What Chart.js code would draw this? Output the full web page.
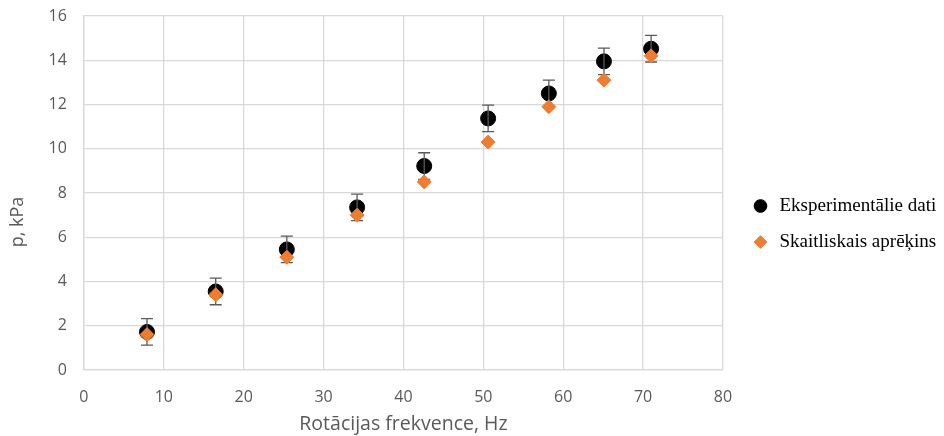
<!DOCTYPE html>
<html>
<head>
<meta charset="utf-8">
<script src="https://cdn.jsdelivr.net/npm/chart.js@4/dist/chart.umd.min.js"></script>
<style>
  html, body { margin: 0; padding: 0; background: #fff; }
  #wrap { width: 944px; height: 436px; }
</style>
</head>
<body>
<div id="wrap"><canvas id="chart" width="944" height="436"></canvas></div>
<script>
const freq = [7.9, 16.5, 25.4, 34.2, 42.6, 50.6, 58.2, 65.1, 71.0];
const measured = [1.72, 3.55, 5.45, 7.35, 9.22, 11.37, 12.5, 13.95, 14.52];
const computed = [1.6, 3.4, 5.1, 7.0, 8.5, 10.3, 11.9, 13.1, 14.2];
const measuredErr = [0.6, 0.6, 0.6, 0.6, 0.6, 0.6, 0.6, 0.6, 0.6];

const seriesNames = ['Eksperimentālie dati', 'Skaitliskais aprēķins'];

const gridColor = '#d9d9d9';
const textColor = '#595959';

// error bars for the measured series, drawn right after that dataset
const errorBars = {
    id: 'errorBars',
    afterDatasetDraw(chart, args) {
        if (args.index !== 0) return;
        const ctx = chart.ctx;
        const xs = chart.scales.x, ys = chart.scales.y;
        ctx.save();
        ctx.strokeStyle = '#595959';
        ctx.lineWidth = 1.3;
        for (let i = 0; i < freq.length; i++) {
            const px = xs.getPixelForValue(freq[i]);
            const top = ys.getPixelForValue(measured[i] + measuredErr[i]);
            const bot = ys.getPixelForValue(measured[i] - measuredErr[i]);
            ctx.beginPath();
            ctx.moveTo(px, top); ctx.lineTo(px, bot);
            ctx.moveTo(px - 6, top); ctx.lineTo(px + 6, top);
            ctx.moveTo(px - 6, bot); ctx.lineTo(px + 6, bot);
            ctx.stroke();
        }
        ctx.restore();
    }
};

// legend on the right is wider than its content, like the original
const legendBox = {
    id: 'legendBox',
    beforeUpdate(chart) {
        const lg = chart.legend;
        if (lg && !lg._fitPatched) {
            const fit = lg.fit;
            lg.fit = function () {
                fit.call(this);
                this.width = 221;
            };
            lg._fitPatched = true;
        }
    },
    afterLayout(chart) {
        const lg = chart.legend;
        lg.left += 11;
        lg.top += 6;
        lg.bottom += 6;
        // y title sits lower than the plot centre in the original
        const ys = chart.scales.y;
        if (!ys._titlePatched) {
            const drawTitle = ys.drawTitle;
            ys.drawTitle = function () {
                const t = this.top, b = this.bottom;
                this.top += 29; this.bottom += 29;
                drawTitle.apply(this, arguments);
                this.top = t; this.bottom = b;
            };
            ys._titlePatched = true;
        }
    }
};

new Chart(document.getElementById('chart'), {
    type: 'scatter',
    data: {
        datasets: [
            {
                label: seriesNames[0],
                data: freq.map((x, i) => ({ x: x, y: measured[i] })),
                backgroundColor: '#000000',
                borderColor: '#000000',
                pointStyle: 'circle',
                pointRadius: 7.5,
                order: 2
            },
            {
                label: seriesNames[1],
                data: freq.map((x, i) => ({ x: x, y: computed[i] })),
                backgroundColor: '#ed7d31',
                borderColor: '#ed7d31',
                pointStyle: 'rectRot',
                pointRadius: 7,
                order: 1
            }
        ]
    },
    options: {
        responsive: false,
        animation: false,
        layout: { padding: { top: 0, left: 7, right: 0, bottom: 0 } },
        plugins: {
            tooltip: { enabled: false },
            legend: {
                position: 'right',
                labels: {
                    usePointStyle: true,
                    boxWidth: 19,
                    boxHeight: 9,
                    padding: 17,
                    color: '#000',
                    font: { family: 'Liberation Serif', size: 19 },
                    sort: (a, b) => a.datasetIndex - b.datasetIndex
                }
            }
        },
        scales: {
            x: {
                type: 'linear',
                min: 0, max: 80,
                ticks: { stepSize: 10, color: textColor, font: { family: 'Open Sans', size: 16 }, padding: 18 },
                grid: { color: gridColor, lineWidth: 1.3, drawTicks: false },
                border: { color: gridColor, width: 1.3 },
                title: { display: true, text: 'Rotācijas frekvence, Hz', color: textColor, font: { family: 'Open Sans', size: 19.5 }, padding: { top: 0, bottom: 0 } },
                afterFit(s) { s.height = 66; }
            },
            y: {
                min: 0, max: 16,
                ticks: { stepSize: 2, color: textColor, font: { family: 'Open Sans', size: 16 }, padding: 17 },
                grid: { color: gridColor, lineWidth: 1.3, drawTicks: false },
                border: { color: gridColor, width: 1.3 },
                title: { display: true, text: 'p, kPa', color: textColor, font: { family: 'Open Sans', size: 18 }, padding: { top: 0, bottom: 3 } },
                afterFit(s) { s.paddingTop = 16; s.paddingBottom = 10; }
            }
        }
    },
    plugins: [errorBars, legendBox]
});
</script>
</body>
</html>
